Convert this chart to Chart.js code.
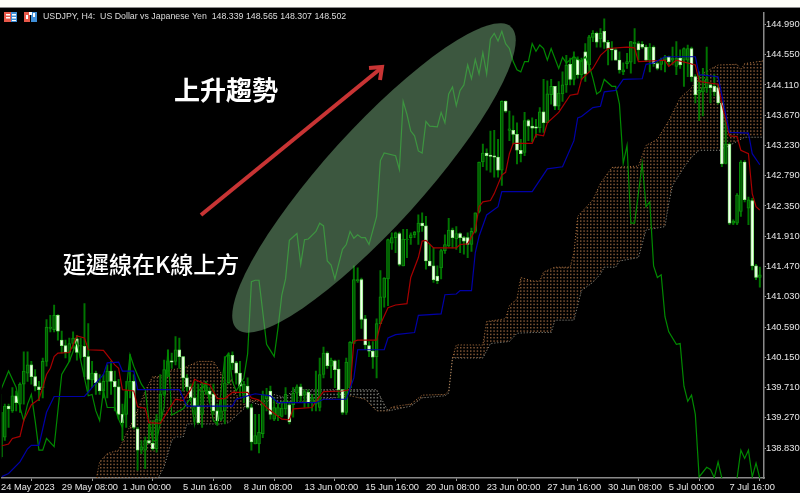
<!DOCTYPE html>
<html><head><meta charset="utf-8">
<script src="https://cdn.jsdelivr.net/npm/chart.js@4"></script>
<style>
html,body{margin:0;padding:0;background:#fdfdf8;width:800px;height:500px;overflow:hidden}
canvas{position:absolute;left:0;top:7px;background:#000;display:block;filter:blur(0.3px)}
</style></head><body>
<canvas id="c" width="800" height="486"></canvas>
<script>
const opens=[138.70,138.99,139.44,139.37,139.59,139.47,139.76,139.92,140.04,139.87,
139.72,139.71,140.09,140.57,140.55,140.76,140.40,140.32,140.22,140.35,
140.42,140.31,140.31,140.16,139.82,139.92,139.78,139.66,139.80,139.95,
139.80,139.72,139.32,139.32,139.66,139.80,139.11,138.80,138.80,138.94,
138.90,138.82,139.23,139.61,139.95,140.10,140.09,140.26,140.16,139.85,
139.72,139.56,139.44,139.32,139.66,139.66,139.61,139.37,139.25,139.37,
139.78,140.18,140.07,139.92,139.61,139.73,139.42,138.89,138.89,139.04,
139.55,139.66,139.25,139.30,139.29,139.40,139.46,139.46,139.63,139.72,
139.60,139.64,139.49,139.47,139.42,139.90,140.21,140.02,140.10,139.98,
139.68,139.35,139.71,140.35,141.26,141.28,140.71,140.32,140.24,140.16,
140.64,141.02,141.29,141.81,141.89,141.95,141.48,141.86,141.89,141.93,
141.97,142.10,142.06,141.55,141.48,141.33,141.45,141.70,141.77,142.00,
141.87,141.95,141.89,141.89,141.79,141.98,142.27,142.99,143.12,143.09,
143.08,143.06,142.87,143.87,143.45,143.45,143.39,143.16,143.13,143.59,
143.51,143.50,143.49,143.72,143.56,143.97,144.09,143.80,143.98,144.11,
144.41,144.19,144.48,144.26,144.59,144.40,144.80,144.86,144.78,144.89,
144.73,144.64,144.62,144.47,144.30,144.42,144.44,144.71,144.71,144.70,
144.66,144.47,144.66,144.42,144.41,144.47,144.52,144.47,144.38,144.50,
144.47,144.47,144.64,144.23,143.99,144.01,144.07,144.11,144.09,144.07,
143.85,142.97,143.25,142.10,142.10,142.27,142.99,142.32,142.43,141.48,141.31];
const closes=[139.35,139.44,139.40,139.59,139.49,139.76,139.95,140.04,139.87,139.73,
139.68,140.09,140.59,140.59,140.76,140.53,140.32,140.22,140.35,140.43,
140.22,140.32,140.16,139.83,139.92,139.78,139.66,139.80,139.95,139.80,
139.72,139.32,139.20,139.66,139.80,139.13,138.80,138.85,138.94,138.90,
138.82,139.25,139.61,139.97,140.10,140.08,140.26,140.16,139.85,139.72,
139.56,139.44,139.20,139.66,139.78,139.61,139.37,139.23,139.37,139.78,
140.18,140.07,139.92,139.73,139.76,139.42,138.92,139.01,139.06,139.61,
139.60,139.32,139.42,139.42,139.41,139.61,139.21,139.63,139.72,139.59,
139.65,139.49,139.56,139.52,139.90,140.21,140.03,140.11,139.97,139.68,
139.35,140.08,140.37,141.28,141.28,140.70,140.33,140.24,140.15,140.64,
141.03,141.30,141.86,141.89,141.96,141.50,141.87,141.87,141.93,141.97,
142.10,142.06,141.55,141.48,141.28,141.26,141.70,141.79,142.00,141.89,
141.95,141.89,141.84,141.79,141.98,142.25,142.99,143.12,143.08,143.07,
143.06,142.87,143.87,143.73,143.47,143.39,143.16,143.11,143.59,143.51,
143.48,143.48,143.72,143.56,143.98,144.09,143.80,143.99,144.11,144.40,
144.19,144.52,144.26,144.47,144.27,144.81,144.86,144.73,144.86,144.73,
144.64,144.62,144.47,144.33,144.33,144.45,144.74,144.73,144.62,144.66,
144.47,144.66,144.42,144.35,144.47,144.52,144.45,144.50,144.50,144.40,
144.64,144.64,144.23,143.97,144.03,144.07,144.20,144.07,144.01,143.85,
142.96,143.25,142.10,142.13,142.51,142.99,142.44,142.44,141.48,141.31,141.35];
const highs=[139.61,139.47,139.47,139.71,139.66,139.78,140.23,140.23,140.09,139.97,
139.80,140.14,140.70,140.76,140.91,140.77,140.53,140.40,140.43,140.52,
140.47,140.43,140.93,140.64,140.09,139.95,139.90,139.90,140.04,140.09,
139.95,139.83,139.47,139.80,140.19,139.90,139.13,138.94,138.99,139.18,
139.23,139.32,139.90,140.11,140.26,140.21,140.45,140.43,140.16,139.90,
139.76,139.80,139.76,139.78,139.80,139.71,139.76,139.47,139.54,140.16,
140.21,140.23,140.09,140.09,139.80,139.85,139.47,139.32,139.32,139.66,
139.70,139.73,139.56,139.49,139.51,139.71,139.51,139.71,139.75,139.76,
139.68,139.68,139.61,139.95,140.14,140.30,140.23,140.14,140.11,140.11,
139.68,140.14,140.38,141.48,141.45,141.30,140.76,140.38,140.38,140.71,
141.41,141.31,141.87,141.96,141.97,141.97,142.01,142.01,141.96,141.98,
142.22,142.25,142.20,141.79,141.74,141.48,141.72,141.93,142.17,142.03,
142.05,141.96,141.91,141.96,142.03,142.25,142.99,143.25,143.18,143.44,
143.45,143.32,143.88,143.88,143.73,143.66,143.56,143.32,143.71,143.61,
143.63,143.61,143.78,144.19,144.17,144.19,144.09,144.16,144.30,144.54,
144.50,144.59,144.52,144.50,144.71,144.83,144.90,144.88,144.93,145.07,
144.76,144.74,144.64,144.59,144.43,144.57,144.74,144.93,144.74,144.74,
144.69,144.71,144.68,144.45,144.50,144.54,144.53,144.66,144.74,144.62,
144.65,144.69,144.66,144.26,144.30,144.35,144.66,144.14,144.26,144.11,
143.87,143.63,143.27,142.15,142.53,143.01,143.01,142.48,142.46,141.50,141.46];
const lows=[138.68,138.94,139.13,139.35,139.37,139.35,139.47,139.80,139.76,139.66,
139.52,139.56,140.02,140.52,140.52,140.40,140.21,140.14,140.09,140.28,
140.11,140.14,139.87,139.64,139.71,139.61,139.61,139.56,139.56,139.61,
139.37,139.25,138.94,139.13,139.56,139.11,138.51,138.75,138.53,138.89,
138.80,138.77,139.18,139.59,139.87,139.99,140.04,139.99,139.66,139.66,
139.52,139.32,139.18,139.13,139.61,139.49,139.32,139.16,139.23,139.18,
139.76,139.97,139.76,139.59,139.49,139.40,138.80,138.89,138.76,138.98,
139.37,139.25,139.23,139.23,139.28,139.32,139.18,139.28,139.51,139.51,
139.42,139.42,139.37,139.37,139.37,139.85,139.99,139.85,139.71,139.56,
139.32,139.32,139.66,140.35,141.24,140.57,140.26,140.16,139.99,139.85,
140.64,140.88,140.90,141.72,141.67,141.48,141.48,141.60,141.79,141.89,
141.79,141.98,141.43,141.48,141.24,141.22,141.29,141.66,141.76,141.74,
141.72,141.67,141.65,141.60,141.69,141.96,142.25,142.92,142.87,142.84,
142.77,142.77,142.65,143.71,143.30,143.25,142.96,142.99,143.08,143.30,
143.28,143.35,143.42,143.42,143.56,143.83,143.75,143.75,143.87,144.00,
144.11,144.11,144.21,144.19,144.16,144.30,144.74,144.66,144.66,144.64,
144.40,144.47,144.47,144.28,144.26,144.35,144.28,144.42,144.47,144.64,
144.45,144.30,144.38,144.33,144.33,144.30,144.40,144.40,144.26,144.35,
144.09,144.23,144.16,143.85,143.59,143.66,144.00,143.85,143.95,143.83,
142.92,142.96,142.08,142.08,142.08,142.20,142.41,142.08,141.42,141.28,141.17];

const tenkanBars=[0,2,3,5,6,8,10,11,12,13,14,15,18,19,20,22,23,27,30,31,32,35,36,38,39,42,44,46,48,50,51,53,55,57,59,61,65,66,68,70,74,76,77,82,83,85,90,92,93,94,99,100,102,104,107,108,110,111,112,114,120,121,123,125,126,127,129,130,132,133,134,135,140,141,143,144,147,150,152,153,156,158,160,165,167,168,172,175,176,178,183,184,189,190,192,194,195,197,198,199,200];
const tenkanVals=[138.86,138.89,138.97,139.00,139.23,139.46,139.54,139.71,139.90,139.99,140.16,140.21,140.22,140.33,140.46,140.43,140.26,140.25,140.04,139.99,139.68,139.66,139.43,139.41,139.20,139.19,139.37,139.54,139.52,139.68,139.83,139.78,139.75,139.55,139.55,139.64,139.64,139.56,139.53,139.42,139.25,139.24,139.40,139.42,139.51,139.65,139.66,139.68,140.38,140.40,140.40,140.63,140.87,140.91,140.93,141.31,141.60,141.84,141.85,141.74,141.74,141.79,141.80,142.00,142.34,142.41,142.43,142.53,142.80,142.84,143.11,143.26,143.26,143.39,143.37,143.56,143.71,143.96,143.98,144.19,144.35,144.54,144.64,144.66,144.65,144.45,144.46,144.47,144.38,144.47,144.40,144.16,144.12,143.83,143.37,143.36,143.16,143.11,142.53,142.34,142.29];
const kijunBars=[0,2,5,7,8,10,12,14,22,24,27,28,31,32,35,36,47,48,49,61,62,65,67,71,73,83,85,91,93,94,101,102,104,109,110,116,117,120,121,124,125,126,128,131,132,140,144,148,151,152,153,156,158,159,162,164,169,170,172,175,183,184,189,192,197,198,200];
const kijunVals=[138.41,138.46,138.63,138.82,138.87,138.87,139.35,139.58,139.58,139.71,139.90,140.07,140.08,139.95,139.95,139.68,139.68,139.56,139.44,139.44,139.54,139.59,139.62,139.59,139.49,139.49,139.54,139.54,139.85,140.26,140.26,140.43,140.48,140.51,140.76,140.78,141.06,141.07,141.12,141.12,141.67,141.91,142.22,142.34,142.56,142.56,142.89,142.92,143.30,143.63,143.65,143.78,143.80,144.01,144.03,144.19,144.20,144.41,144.43,144.52,144.52,144.26,144.23,143.42,143.41,143.11,142.95];
const chikouBars=[0,2,4,5,6,7,8,9,10,11,12,14,16,18,20,21,23,24,25,26,27,28,30,31,32,34,35,37,38,39,40,41,43,44,45,48,50,51,52,54,56,57,59,60,61,62,64,65,66,67,68,70,71,72,73,74,75,76,78,79,80,81,83,84,85,86,87,88,90,91,92,93,94,95,96,97,99,100,101,104,105,106,107,108,109,110,111,112,113,115,116,117,118,119,120,121,122,123,124,125,126,127,128,129,130,131,132,133,134,135,136,137,138,139,140,141,142,143,144,145,147,148,149,151,153,154,155,156,157,158,159,161,162,163,164,165,166,167,169,170,171,172,173,174,175,176,178,179,180,181,182,183,184,186,187,188,189,190,191,193,194,195,196,197,198,199,200];
const chikouVals=[139.68,139.95,139.71,139.42,139.23,139.47,139.61,139.23,138.80,138.80,138.97,138.85,139.90,140.09,140.38,140.11,139.59,139.61,139.37,139.23,139.66,139.42,139.42,139.25,139.13,140.19,140.02,139.76,139.68,139.23,138.94,138.94,139.44,140.26,139.31,139.40,139.56,139.18,139.66,139.76,139.23,139.18,140.14,140.21,139.80,139.66,139.85,140.20,141.25,141.27,141.27,140.34,140.25,140.16,140.57,141.05,141.29,141.85,141.95,141.50,141.86,141.87,141.98,142.10,142.06,141.55,141.49,141.29,141.72,141.79,141.98,141.88,141.93,141.89,141.89,141.79,142.20,143.01,143.12,143.08,142.88,143.87,143.68,143.44,143.37,143.15,143.12,143.58,143.51,143.50,143.71,143.56,143.98,144.08,143.81,144.03,144.11,144.40,144.20,144.48,144.27,144.58,144.27,144.78,144.86,144.75,144.89,144.71,144.64,144.45,144.33,144.30,144.45,144.45,144.71,144.60,144.69,144.64,144.47,144.64,144.35,144.51,144.43,144.52,144.45,144.52,144.40,144.21,143.98,144.02,144.19,144.09,144.09,143.83,142.97,143.23,142.10,142.10,142.97,142.34,142.41,141.48,141.31,141.35,140.74,140.52,140.34,140.35,139.73,139.51,139.60,139.32,138.41,138.55,138.52,138.40,138.63,138.39,138.20,138.20,138.39,138.80,138.68,138.80,138.41,138.61,138.39];
const spanABars=[25,26,28,31,33,35,38,40,42,45,48,50,52,56,58,59,61,62,65,66,69,74,77,84,85,92,96,99,102,103,108,111,117,118,119,120,127,128,133,134,136,137,140,142,143,146,150,151,152,154,156,158,161,168,170,173,176,179,182,184,185,189,194,195,196,201];
const spanAVals=[138.35,138.63,138.75,138.80,139.04,139.25,139.66,139.87,139.87,139.97,139.99,140.04,140.09,140.09,139.92,139.82,139.82,139.59,139.59,139.52,139.52,139.47,139.51,139.51,139.54,139.59,139.54,139.37,139.37,139.43,139.47,139.60,139.61,139.66,140.14,140.33,140.33,140.67,140.71,140.90,141.00,141.31,141.26,141.26,141.39,141.46,141.46,141.67,142.20,142.32,142.44,142.68,142.91,142.93,143.23,143.32,143.59,143.92,144.07,144.23,144.28,144.40,144.41,144.33,144.42,144.46];
const spanBBars=[25,41,43,45,46,48,49,58,60,62,64,65,69,70,72,75,77,99,101,102,108,111,117,118,119,127,129,134,136,140,145,146,151,153,156,158,159,162,163,168,170,175,176,177,180,182,184,190,192,196,201];
const spanBVals=[138.35,138.35,138.56,138.94,138.99,138.99,139.18,139.18,139.20,139.30,139.40,139.52,139.44,139.50,139.61,139.56,139.68,139.68,139.47,139.37,139.44,139.56,139.59,139.63,140.14,140.14,140.35,140.38,140.50,140.51,140.51,140.69,140.69,141.12,141.24,141.36,141.46,141.46,141.55,141.60,142.00,142.05,142.39,142.65,142.91,143.06,143.16,143.16,143.23,143.35,143.35];

const xTicks=[0,16,32,48,64,80,96,112,128,144,160,176,192];
const xLabels=['24 May 2023','29 May 08:00','1 Jun 00:00','5 Jun 16:00','8 Jun 08:00','13 Jun 00:00','15 Jun 16:00','20 Jun 08:00','23 Jun 00:00','27 Jun 16:00','30 Jun 08:00','5 Jul 00:00','7 Jul 16:00'];
const yTicks=[138.83,139.27,139.71,140.15,140.59,141.03,141.47,141.91,142.35,142.79,143.23,143.67,144.11,144.55,144.99];
const headerText='USDJPY, H4:  US Dollar vs Japanese Yen  148.339 148.565 148.307 148.502';
const trendLabel='上升趨勢';
const chikouLabel='延遲線在K線上方';

function dotPattern(color){
  const p=document.createElement('canvas');p.width=10;p.height=10;
  const g=p.getContext('2d');g.fillStyle=color;
  [0,3.33,6.67].forEach(a=>[0,3.33,6.67].forEach(b=>g.fillRect(a,b,1.5,1.5)));
  return g.createPattern(p,'repeat');
}
const pts=(xs,ys)=>xs.map((x,i)=>({x,y:ys[i]}));
const bars=opens.map((_,i)=>i);
const line=(label,xs,ys,color,order,extra)=>Object.assign({type:'line',label,data:pts(xs,ys),borderColor:color,borderWidth:1.2,pointRadius:0,tension:0,order,fill:false},extra||{});
const wicks={type:'bar',label:'range',data:bars.map(i=>({x:i,y:[lows[i],highs[i]]})),backgroundColor:'#007500',barThickness:1.3,grouped:false,order:6};
const up=bars.filter(i=>closes[i]>=opens[i]);
const down=bars.filter(i=>closes[i]<opens[i]);
const upBodies={type:'bar',label:'up',data:up.map(i=>({x:i,y:[opens[i],closes[i]]})),backgroundColor:'#005a00',borderColor:'#0a8f0a',borderWidth:1,barThickness:3,grouped:false,order:5,borderSkipped:false};
const downBodies={type:'bar',label:'down',data:down.map(i=>({x:i,y:[closes[i],opens[i]]})),backgroundColor:'#f4fff0',borderColor:'#8fee80',borderWidth:1,barThickness:3,grouped:false,order:4,borderSkipped:false};

const overlay={id:'overlay',afterDraw(ch){
  const c=ch.ctx;c.save();
  c.translate(0,-7);
  c.fillStyle='rgba(110,158,115,0.55)';
  c.beginPath();c.ellipse(374,178,204,49,-47.8*Math.PI/180,0,Math.PI*2);c.fill();
  c.strokeStyle='#c83434';c.lineWidth=4;c.lineCap='butt';
  c.beginPath();c.moveTo(201,215);c.lineTo(380,69);c.stroke();
  c.beginPath();c.moveTo(369,68);c.lineTo(382,67);c.lineTo(380,80);c.lineJoin='miter';c.stroke();
  c.fillStyle='#fff';c.textBaseline='middle';c.textAlign='left';
  c.font='700 26px "Noto Sans CJK TC"';c.fillText(trendLabel,174,90);
  c.font='500 23px "Noto Sans CJK TC"';c.fillText(chikouLabel,63,264);
  c.fillStyle='#dcdcdc';c.font='8.8px "Liberation Sans"';c.fillText(headerText,43,16.5);
  c.fillStyle='#e8584a';c.fillRect(4,12,13,10);
  c.fillStyle='#fff';c.fillRect(6,14,4,1.5);c.fillRect(6,17,4,1.5);c.fillRect(11.5,14,4,1.5);c.fillRect(11.5,17,4,1.5);
  c.fillStyle='#3f8fd8';c.fillRect(11,12,6,10);c.fillStyle='#fff';c.fillRect(12,14,4,1.5);c.fillRect(12,17,4,1.5);c.fillRect(12,20,4,1);
  c.fillStyle='#e8584a';c.fillRect(24,12,6,10);c.fillStyle='#3f8fd8';c.fillRect(31,12,6,10);
  c.fillStyle='#fff';c.fillRect(26,15,2,4);c.fillRect(33,13,2,4);c.fillRect(29,12,3,3);
  c.restore();
  c.save();c.strokeStyle='#8a8a8a';c.lineWidth=1;c.beginPath();c.moveTo(0,0.5);c.lineTo(800,0.5);c.stroke();c.restore();
}};

new Chart(document.getElementById('c'),{
  type:'bar',
  data:{datasets:[
    line('Senkou A',spanABars,spanAVals,'rgba(190,125,70,0.9)',8,{borderWidth:1,borderDash:[1,2],fill:{target:'+1',above:dotPattern('#7e5434'),below:dotPattern('#74746e')}}),
    line('Senkou B',spanBBars,spanBVals,'rgba(170,170,160,0.9)',9,{borderWidth:1,borderDash:[1,2]}),
    wicks,upBodies,downBodies,
    line('Chikou',chikouBars,chikouVals,'#008a00',3),
    line('Tenkan',tenkanBars,tenkanVals,'#a80000',2),
    line('Kijun',kijunBars,kijunVals,'#0000a8',1)
  ]},
  options:{
    responsive:false,animation:false,devicePixelRatio:1,
    layout:{padding:0},
    plugins:{legend:{display:false},tooltip:{enabled:false},filler:{propagate:false}},
    scales:{
      x:{type:'linear',min:0.22,max:201.1,offset:false,
        afterBuildTicks:s=>{s.ticks=xTicks.map(value=>({value}))},
        afterFit:s=>{s.height=15},
        grid:{drawOnChartArea:false,drawTicks:true,tickLength:3,color:'#9a9a9a'},
        border:{color:'#8a8a8a',width:1.5},
        ticks:{autoSkip:false,maxRotation:0,align:'start',padding:1,color:'#e6e6e6',font:{family:'"Liberation Sans"',size:9.3},
          callback:v=>xLabels[xTicks.indexOf(v)]}},
      y:{position:'right',min:138.395,max:145.162,
        afterBuildTicks:s=>{s.ticks=yTicks.map(value=>({value}))},
        afterFit:s=>{s.width=36},
        grid:{drawOnChartArea:false,drawTicks:true,tickLength:2,color:'#9a9a9a'},
        border:{color:'#8a8a8a',width:1.5},
        ticks:{padding:0,color:'#e6e6e6',font:{family:'"Liberation Sans"',size:9.3},
          callback:v=>Number(v).toFixed(3)}}
    }
  },
  plugins:[overlay]
});
</script>
</body></html>
